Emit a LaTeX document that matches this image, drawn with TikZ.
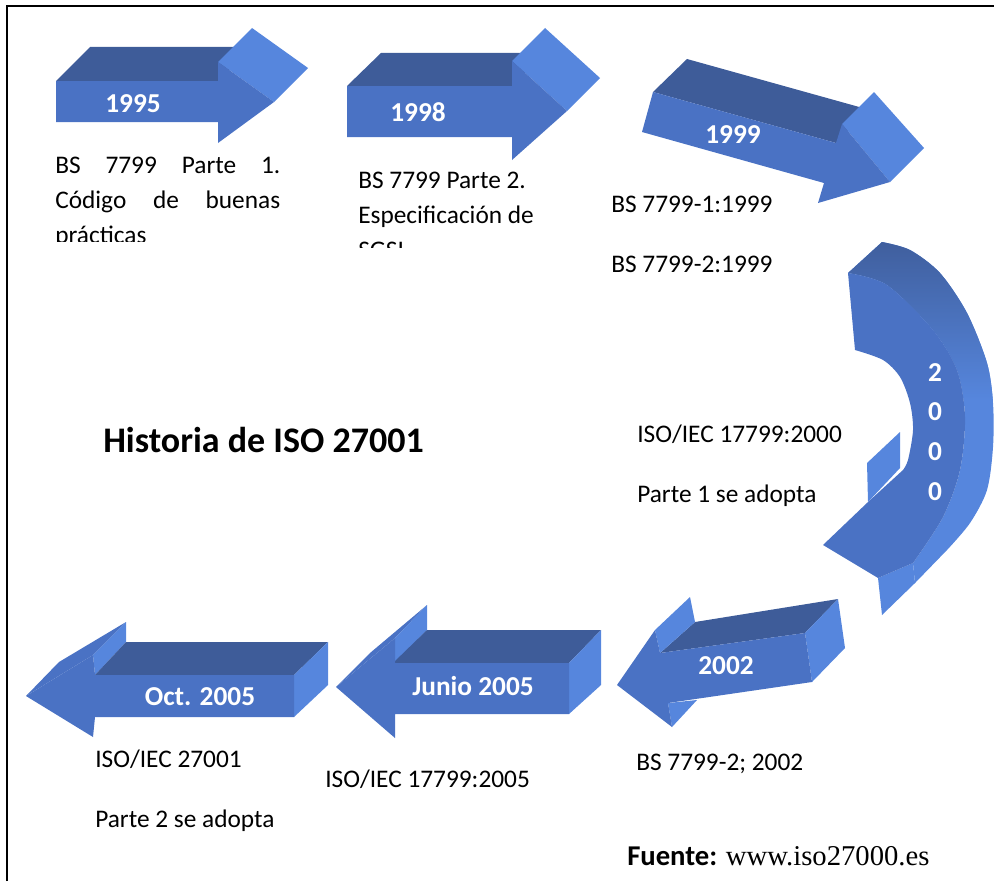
\documentclass[tikz,border=0pt]{standalone}
\usepackage{fontspec}
\setmainfont{Carlito}
\newfontfamily\webfont{Liberation Serif}
\usepackage{tikz,xcolor}
\usetikzlibrary{calc}

\definecolor{frontc}{RGB}{74,114,196}
\definecolor{topc}{RGB}{62,92,153}
\definecolor{sidec}{RGB}{86,134,221}

\tikzset{
  txt/.style={font=\fontsize{19}{23}\selectfont, anchor=base west, inner sep=0pt},
  yr/.style={font=\fontsize{20.5}{24}\selectfont\bfseries, text=white, inner sep=0pt},
}

\begin{document}
\begin{tikzpicture}[x=0.75pt,y=-0.75pt]
\useasboundingbox (0,0) rectangle (994,881);
\draw[line width=1.5pt] (7,881) -- (7,6) -- (994,6);

%1995
\fill[topc] (56,81) -- (90,47) -- (252,47) -- (218,81) -- cycle;
\fill[sidec] (218,62) -- (252,28) -- (308,68) -- (274,102) -- cycle;
\fill[frontc] (56,81) -- (218,81) -- (218,62) -- (274,102) -- (218,143) -- (218,122) -- (56,122) -- cycle;

%1998
\fill[topc] (347,86) -- (381,53) -- (545,53) -- (512,86) -- cycle;
\fill[sidec] (512,61) -- (545,28) -- (600,78) -- (567,111) -- cycle;
\fill[frontc] (347,86) -- (512,86) -- (512,61) -- (567,111) -- (512,160) -- (512,137) -- (347,137) -- cycle;

%1999
\fill[topc] (653,92) -- (687,59) -- (870,110) -- (836,143) -- cycle;
\fill[sidec] (842,124) -- (874,92) -- (924,148) -- (890,182) -- cycle;
\fill[frontc] (653,92) -- (836,143) -- (842,124) -- (890,182) -- (818,203) -- (824,183) -- (642,132) -- cycle;

%2000, curved
\begin{scope}
\path[clip] plot[smooth] coordinates {(848,273) (887,285) (933,330) (957,370) (965,417) (960,470) (943,517) (913,563)}
  -- (915,583) -- plot[smooth] coordinates {(947,550) (970,523) (987,490) (993,447) (993,403) (987,363) (967,313) (940,273) (910,250) (882,242)} -- cycle;
\fill[sidec] (840,230) rectangle (1000,600);
\shade[top color=topc, middle color=sidec, bottom color=sidec] (840,230) rectangle (1000,400);
\end{scope}
\fill[sidec] (878,578) -- (882,615) -- (915,583) -- (913,563) -- cycle;
\fill[sidec] (900,432) -- (900,468) -- (868,502) -- (867,463) -- cycle;
\fill[frontc] (848,273) -- (855,350) -- plot[smooth] coordinates {(855,350) (883,360) (900,377) (910,403) (913,430) (908,460) (903,470)}
  -- (868,502) -- (823,545) -- (878,578) -- plot[smooth] coordinates {(913,563) (943,517) (960,470) (965,417) (957,370) (933,330) (887,285) (848,273)} -- cycle;

%2002
\fill[topc] (660,653) -- (695,622) -- (838,599) -- (805,633) -- cycle;
\fill[sidec] (655,630) -- (690,597) -- (695,622) -- (660,653) -- cycle;
\fill[sidec] (805,633) -- (838,599) -- (845,648) -- (812,682) -- cycle;
\fill[sidec] (668,703) -- (672,727) -- (697,700) -- cycle;
\fill[frontc] (617,685) -- (655,630) -- (660,653) -- (805,633) -- (812,682) -- (668,703) -- (672,727) -- cycle;

%Junio 2005
\fill[frontc] (336,687) -- (370,653) -- (427,605) -- (395,638) -- cycle;
\fill[sidec] (395,638) -- (427,605) -- (427,630) -- (395,663) -- cycle;
\fill[topc] (393,663) -- (427,630) -- (601,630) -- (569,663) -- cycle;
\fill[sidec] (569,663) -- (601,630) -- (601,685) -- (569,714) -- cycle;
\fill[frontc] (336,687) -- (395,638) -- (395,663) -- (569,663) -- (569,714) -- (395,714) -- (395,738) -- cycle;

%Oct. 2005
\fill[frontc] (26,696) -- (59,662) -- (126,622) -- (93,655) -- cycle;
\fill[sidec] (93,655) -- (126,622) -- (126,642) -- (95,675) -- cycle;
\fill[topc] (95,675) -- (126,642) -- (328,642) -- (294,675) -- cycle;
\fill[sidec] (294,675) -- (328,642) -- (328,685) -- (294,717) -- cycle;
\fill[frontc] (26,696) -- (93,655) -- (95,675) -- (294,675) -- (294,717) -- (95,717) -- (93,737) -- cycle;

%years
\node[yr] (y95) at (133,104) {1995};
\node[yr] (y98) at (418,112) {1998};
\node[yr] (y99) at (733,135) {1999};
\foreach \d/\y [count=\i] in {2/373,0/412,0/452,0/492}
  \node[yr] (y00\i) at (935,\y) {\d};
\node[yr] (y02) at (726,666) {2002};
\node[yr] (jun) at (473,686) {Junio 2005};
\node[yr] (oct) at (200,697) {Oct. 2005};

%texts
\node[txt] (t95a) at (55,173) {\makebox[168.75pt][s]{BS 7799 Parte 1.}};
\node[txt] (t95b) at (55,208) {\makebox[168.75pt][s]{Código de buenas}};
\begin{scope}
\clip (40,200) rectangle (300,241);
\node[txt] (t95c) at (55,243) {prácticas};
\end{scope}

\node[txt] (t98a) at (358,188) {BS 7799 Parte 2.};
\node[txt] (t98b) at (358,223) {Especificación de};
\begin{scope}
\clip (340,230) rectangle (600,247);
\node[txt] (t98c) at (358,258) {SGSI};
\end{scope}

\node[txt] (t99a) at (611,212) {BS 7799-1:1999};
\node[txt] (t99b) at (611,272) {BS 7799-2:1999};
\node[txt] (t00a) at (637,442) {ISO/IEC 17799:2000};
\node[txt] (t00b) at (637,502) {Parte 1 se adopta};
\node[txt] (t02) at (636,770) {BS 7799-2; 2002};
\node[txt] (tjun) at (325,787) {ISO/IEC 17799:2005};
\node[txt] (toct1) at (95,767) {ISO/IEC 27001};
\node[txt] (toct2) at (95,827) {Parte 2 se adopta};

\node[txt, font=\fontsize{27}{32}\selectfont\bfseries] (title) at (103,452) {Historia de ISO 27001};
\node[txt, font=\fontsize{21.5}{25}\selectfont] (src) at (627,865) {\textbf{Fuente:} {\webfont www.iso27000.es}};
\end{tikzpicture}
\end{document}
